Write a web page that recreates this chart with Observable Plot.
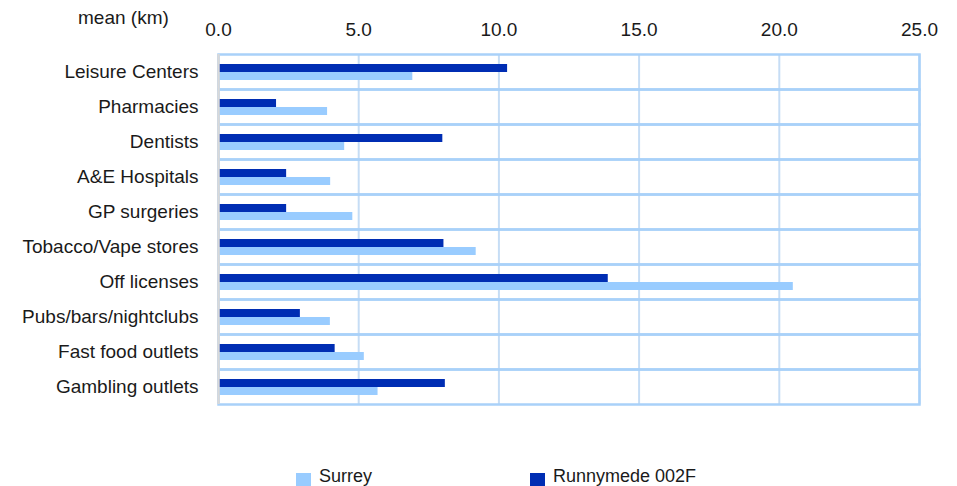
<!DOCTYPE html>
<html>
<head>
<meta charset="utf-8">
<script src="https://cdn.jsdelivr.net/npm/d3@7"></script>
<script src="https://cdn.jsdelivr.net/npm/@observablehq/plot@0.6"></script>
<style>
  html, body { margin: 0; padding: 0; background: #fff; }
  #wrap { position: relative; width: 957px; height: 486px; font-family: "Liberation Sans", Arial, sans-serif; color: #1a1a1a; }
  #unit { position: absolute; left: 78px; top: 7px; font-size: 19px; }
  #legend { position: absolute; top: 465px; left: 0; width: 957px; height: 24px; font-size: 18px; }
  .item { position: absolute; top: 0; display: flex; align-items: center; }
  .sw { width: 15px; height: 15px; margin-top: 8px; margin-right: 8px; }
</style>
</head>
<body>
<div id="wrap">
  <div id="chart"></div>
  <div id="unit">mean (km)</div>
  <div id="legend"></div>
</div>
<script>
const categories = ["Leisure Centers", "Pharmacies", "Dentists", "A&E Hospitals", "GP surgeries",
  "Tobacco/Vape stores", "Off licenses", "Pubs/bars/nightclubs", "Fast food outlets", "Gambling outlets"];
const seriesNames = ["Runnymede 002F", "Surrey"];
const runnymede = [10.31, 2.07, 8.00, 2.43, 2.43, 8.04, 13.90, 2.92, 4.16, 8.09];
const surrey = [6.93, 3.89, 4.50, 4.00, 4.79, 9.19, 20.50, 3.99, 5.20, 5.69];
const seriesColors = ["#002db3", "#99ccff"];
const xTicks = [0, 5, 10, 15, 20, 25];

const data = [];
categories.forEach((c, i) => {
  data.push({category: c, series: seriesNames[0], value: runnymede[i]});
  data.push({category: c, series: seriesNames[1], value: surrey[i]});
});

const chart = Plot.plot({
  width: 957,
  height: 455,
  marginLeft: 218,
  marginRight: 38,
  marginTop: 50,
  marginBottom: 47,
  style: {fontFamily: "Liberation Sans, Arial, sans-serif", fontSize: "19px", color: "#1a1a1a", background: "#fff"},
  x: {domain: [0, 25], ticks: xTicks, tickFormat: d3.format(".1f")},
  y: {domain: seriesNames, paddingInner: 0, paddingOuter: 0.95, axis: null},
  fy: {domain: categories, padding: 0, label: null},
  color: {domain: seriesNames, range: seriesColors},
  facet: {data, y: "category"},
  marks: [
    Plot.gridX(xTicks, {stroke: "#c6ddf5", strokeOpacity: 1, strokeWidth: 2}),
    Plot.frame({stroke: "#a9d1f9", strokeWidth: 2.5}),
    Plot.barX(data, {x: "value", y: "series", fill: "series"}),
    Plot.ruleX([0], {stroke: "#d9d9d9", strokeWidth: 2.5}),
    Plot.axisX({anchor: "top", ticks: xTicks, tickFormat: d3.format(".1f"), tickSize: 0, tickPadding: 19, label: null, fontSize: 19}),
    Plot.axisFy({anchor: "left", tickSize: 0, tickPadding: 20, label: null, fontSize: 19})
  ]
});
document.getElementById("chart").appendChild(chart);

const legend = document.getElementById("legend");
const legendItems = [{name: "Surrey", color: seriesColors[1], left: 296}, {name: "Runnymede 002F", color: seriesColors[0], left: 530}];
legendItems.forEach(it => {
  const d = document.createElement("div");
  d.className = "item";
  d.style.left = it.left + "px";
  d.innerHTML = `<span class="sw" style="background:${it.color}"></span><span>${it.name}</span>`;
  legend.appendChild(d);
});
</script>
</body>
</html>
